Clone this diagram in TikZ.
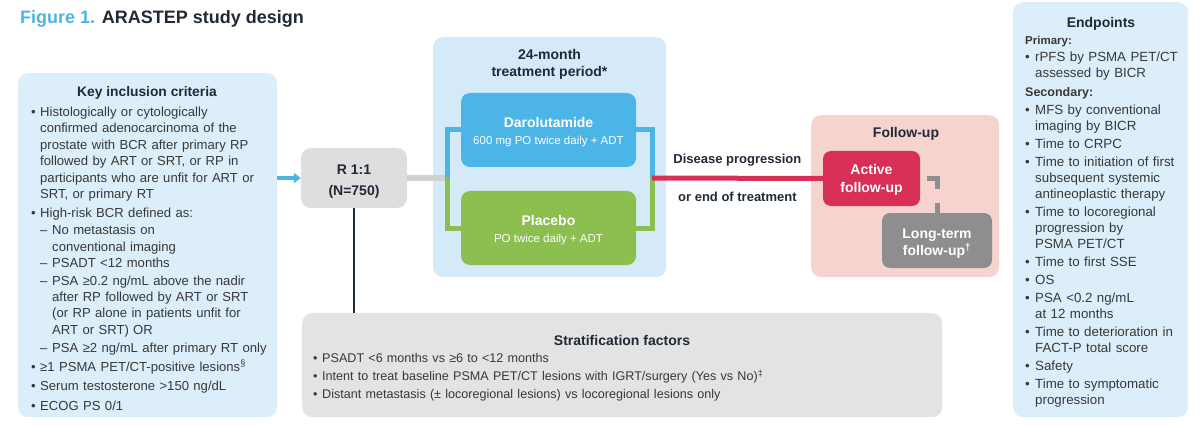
\documentclass[tikz,border=0pt]{standalone}
\usepackage{fontspec}
\setmainfont{Liberation Sans}
\usetikzlibrary{positioning,arrows.meta}

% colours
\definecolor{figblue}{HTML}{4FB3E3}
\definecolor{keyfill}{HTML}{DCEEFA}
\definecolor{trtfill}{HTML}{D4EAF8}
\definecolor{darablue}{HTML}{4CB5E8}
\definecolor{placgreen}{HTML}{8CBF50}
\definecolor{fured}{HTML}{D82F57}
\definecolor{fupink}{HTML}{F6D3CF}
\definecolor{ltgray}{HTML}{8E8E8E}
\definecolor{rgray}{HTML}{DEDEDE}
\definecolor{strgray}{HTML}{E3E3E3}
\definecolor{linegray}{HTML}{D0D0D0}
\definecolor{navy}{HTML}{1B2A3D}
\definecolor{bodytext}{HTML}{383838}
\definecolor{headtext}{HTML}{1F2A36}

% list lines
\newlength{\bulw}
\newcommand{\bfirst}[1]{\noindent\makebox[\bulw][l]{\textbullet}#1}
\newcommand{\bitem}[2][2.6pt]{\par\vspace{#1}\noindent\makebox[\bulw][l]{\textbullet}#2}
\newcommand{\bcont}[1]{\par\noindent\hspace*{\bulw}#1}
\newcommand{\ditem}[2][1pt]{\par\vspace{#1}\noindent\hspace*{\bulw}\makebox[12pt][l]{–}#2}
\newcommand{\dcont}[1]{\par\noindent\hspace*{\bulw}\hspace*{12pt}#1}
\newcommand{\bhead}[3][2pt]{\par\vspace{#1}\noindent{\bfseries\fontsize{#2}{16}\selectfont #3}}

\begin{document}
\begin{tikzpicture}[x=1pt, y=-1pt,
    box/.style={rounded corners=10pt, anchor=north west, inner sep=0pt},
    hdr/.style={font=\bfseries\fontsize{14}{17}\selectfont, text=headtext, align=center, inner sep=0pt},
    listtxt/.style={anchor=base west, inner sep=0pt, text=bodytext},
    armbox/.style={rounded corners=9pt, minimum width=175pt, minimum height=74pt, inner sep=0pt},
    armtxt/.style={text=white, align=center, inner sep=0pt},
    fubox/.style={rounded corners=8pt, minimum height=55pt, inner sep=0pt},
    futxt/.style={text=white, align=center, inner sep=0pt, font=\bfseries\fontsize{14}{17.5}\selectfont},
    bar/.style={line width=5pt}]
    \useasboundingbox (0,0) rectangle (1200,425);

    \node[anchor=base west, inner sep=0pt, font=\bfseries\fontsize{18}{20}\selectfont] (title) at (20,23.5)
        {\textcolor{figblue}{Figure 1.} \textcolor{headtext}{ARASTEP study design}};

    % backgrounds
    \node[box, fill=keyfill, minimum width=259pt, minimum height=344pt] (keybox) at (18,73) {};
    \node[box, fill=trtfill, minimum width=233pt, minimum height=240pt] (trtbox) at (433,37) {};
    \node[box, fill=fupink, minimum width=188pt, minimum height=162pt] (fubg) at (811,115) {};
    \node[box, fill=strgray, minimum width=640pt, minimum height=104pt] (stratbox) at (302,313) {};
    \node[box, fill=keyfill, minimum width=175pt, minimum height=415pt] (endbox) at (1013,2) {};

    % key inclusion criteria
    \node[hdr, font=\bfseries\fontsize{13.8}{17}\selectfont] (keyhdr) at (147,93) {Key inclusion criteria};
    \node[listtxt, text width=245pt, font=\fontsize{13.1}{16.4}\selectfont] (keytxt) at (31,116.5) {\setlength{\bulw}{9pt}%
        \bfirst{Histologically or cytologically}
        \bcont{confirmed adenocarcinoma of the}
        \bcont{prostate with BCR after primary RP}
        \bcont{followed by ART or SRT, or RP in}
        \bcont{participants who are unfit for ART or}
        \bcont{SRT, or primary RT}
        \bitem{High-risk BCR defined as:}
        \ditem{No metastasis on}
        \dcont{conventional imaging}
        \ditem[0pt]{PSADT <12 months}
        \ditem{PSA ≥0.2 ng/mL above the nadir}
        \dcont{after RP followed by ART or SRT}
        \dcont{(or RP alone in patients unfit for}
        \dcont{ART or SRT) OR}
        \ditem[1.6pt]{PSA ≥2 ng/mL after primary RT only}
        \bitem{≥1 PSMA PET/CT-positive lesions\textsuperscript{§}}
        \bitem{Serum testosterone >150 ng/dL}
        \bitem[3.6pt]{ECOG PS 0/1}};

    % randomisation
    \node[rounded corners=10pt, fill=rgray, minimum width=106pt, minimum height=60pt, inner sep=0pt] (rnode) at (354,178) {};
    \node[hdr, font=\bfseries\fontsize{14}{21}\selectfont, yshift=-4pt] (rtxt) at (rnode) {R 1:1\\(N=750)};

    % treatment period
    \node[hdr] (trthdr) at (549.5,64) {24-month\\treatment period*};
    \node[armbox, fill=darablue] (dara) at (548.5,130) {};
    \node[armtxt, yshift=-2pt] (daratxt) at (dara)
        {{\bfseries\fontsize{14}{17}\selectfont Darolutamide}\\[5pt]{\fontsize{11.5}{14}\selectfont 600 mg PO twice daily + ADT}};
    \node[armbox, fill=placgreen] (plac) at (548.5,228) {};
    \node[armtxt, yshift=-2pt] (plactxt) at (plac)
        {{\bfseries\fontsize{14}{17}\selectfont Placebo}\\[5pt]{\fontsize{11.5}{14}\selectfont PO twice daily + ADT}};

    % follow-up
    \node[hdr] (fuhdr) at (906,134) {Follow-up};
    \node[fubox, fill=fured, minimum width=97pt] (active) at (871.5,178.5) {};
    \node[futxt, yshift=-1.5pt] (activetxt) at (active) {Active\\follow-up};
    \node[fubox, fill=ltgray, minimum width=110pt] (longterm) at (937,240.5) {};
    \node[futxt, yshift=-3pt] (longtxt) at (longterm) {Long-term\\follow-up\textsuperscript{†}};

    % connectors
    \coordinate (splitL) at (447,178);
    \coordinate (splitR) at (652,178);
    \coordinate (dashstart) at (927,178.5);
    \draw[-{Triangle[length=7pt,width=10pt]}, line width=3.5pt, figblue] (keybox.east |- rnode.west) -- (rnode.west);
    \draw[bar, linegray, line width=6pt] (rnode.east |- splitL) -- (splitL);
    \draw[bar, darablue] (splitL) |- (dara.west);
    \draw[bar, placgreen] (splitL) |- (plac.west);
    \draw[bar, darablue] (dara.east) -| (splitR);
    \draw[bar, placgreen] (plac.east) -| (splitR);
    \draw[bar, fured] (splitR) -- (active.west)
        node[midway, yshift=18pt, hdr, font=\bfseries\fontsize{13}{16}\selectfont] (prog) {Disease progression}
        node[midway, yshift=-19pt, hdr, font=\bfseries\fontsize{13}{16}\selectfont] (eot) {or end of treatment};
    \draw[bar, ltgray, dash pattern=on 21pt off 13pt] (dashstart) -| (longterm.north);
    \draw[navy, line width=2pt] (rnode.south) -- (rnode.south |- stratbox.north);

    % stratification factors
    \node[hdr] (strathdr) at (622,340) {Stratification factors};
    \node[listtxt, text width=600pt, font=\fontsize{12.6}{18}\selectfont] (strattxt) at (313,362.5) {\setlength{\bulw}{9pt}%
        \bfirst{PSADT <6 months vs ≥6 to <12 months}
        \bitem[0pt]{Intent to treat baseline PSMA PET/CT lesions with IGRT/surgery (Yes vs No)\textsuperscript{‡}}
        \bitem[0pt]{Distant metastasis (± locoregional lesions) vs locoregional lesions only}};

    % endpoints
    \node[hdr] (endhdr) at (1101,23.5) {Endpoints};
    \node[listtxt, text width=165pt, font=\fontsize{13.3}{16}\selectfont] (endtxt) at (1025,44.5) {\setlength{\bulw}{10pt}%
        \noindent{\bfseries\fontsize{11.5}{16}\selectfont Primary:}
        \bitem[1pt]{rPFS by PSMA PET/CT}
        \bcont{assessed by BICR}
        \bhead[3pt]{12.5}{Secondary:}
        \bitem[2pt]{MFS by conventional}
        \bcont{imaging by BICR}
        \bitem[2pt]{Time to CRPC}
        \bitem[2pt]{Time to initiation of first}
        \bcont{subsequent systemic}
        \bcont{antineoplastic therapy}
        \bitem[2pt]{Time to locoregional}
        \bcont{progression by}
        \bcont{PSMA PET/CT}
        \bitem[2pt]{Time to first SSE}
        \bitem[2pt]{OS}
        \bitem[2pt]{PSA <0.2 ng/mL}
        \bcont{at 12 months}
        \bitem[2pt]{Time to deterioration in}
        \bcont{FACT-P total score}
        \bitem[2pt]{Safety}
        \bitem[2pt]{Time to symptomatic}
        \bcont{progression}};
\end{tikzpicture}
\end{document}
